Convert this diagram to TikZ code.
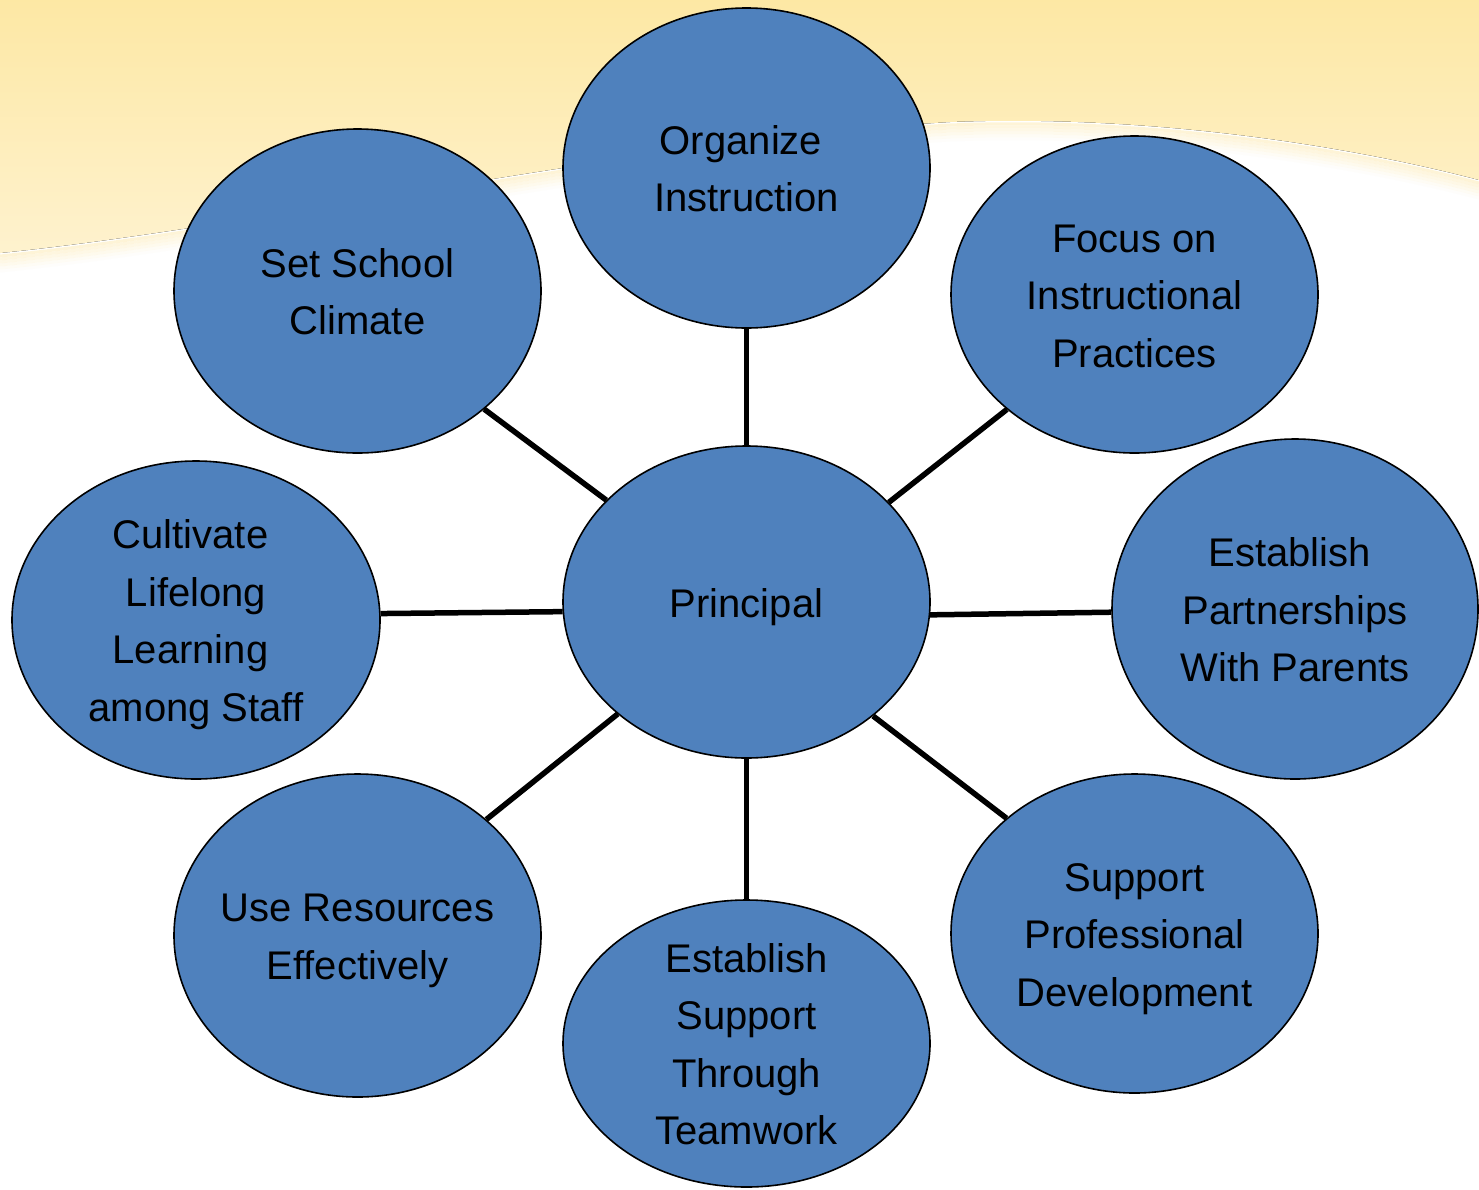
\documentclass[tikz,border=0pt]{standalone}
\usepackage{fontspec}
\setmainfont{Liberation Sans}
\usetikzlibrary{shapes.geometric}
\definecolor{bubblefill}{HTML}{4F81BD}
\definecolor{sunTop}{HTML}{FDE7A1}
\definecolor{sunLow}{HTML}{FEF2CE}

% lower edge of the warm wash across the top
\def\sunedge{(0,253) .. controls (250,228) and (650,140) .. (950,122) .. controls (1150,114) and (1350,146) .. (1479,180)}
% uniform line box for the bubble texts
\newcommand\lnbox{\rule[-13.75pt]{0pt}{57.5pt}}
\newcommand\trail{\kern11pt}

\begin{document}
\begin{tikzpicture}[x=1pt,y=-1pt,
  % negative inner sep keeps the ellipse at its given size
  bubble/.style={ellipse, draw=black, line width=1.6pt, fill=bubblefill,
    inner sep=-60pt, align=center, text=black,
    font=\fontsize{40}{57.5}\selectfont},
  spoke/.style={line width=5.5pt, draw=black}]
\useasboundingbox (0,0) rectangle (1479,1189);
\fill[white] (0,0) rectangle (1479,1189);

% warm wash with a soft lower edge
\fill[top color=sunTop, bottom color=sunLow] (1479,-20) -- (0,-20) -- \sunedge -- cycle;
\foreach \i/\o in {1/0.8,2/0.65,3/0.5,4/0.35,5/0.2,6/0.08}
  \draw[sunLow, line width=3pt, opacity=\o, yshift=-3*\i pt] \sunedge;

% bubbles
\node[bubble, minimum width=367pt, minimum height=312pt] (principal) at (746.5,602) {\lnbox Principal};
\node[bubble, minimum width=367pt, minimum height=320pt] (organize) at (746.5,168) {\lnbox Organize\trail\\\lnbox Instruction};
\node[bubble, minimum width=367pt, minimum height=324pt] (climate) at (357.5,291) {\lnbox Set School\\\lnbox Climate};
\node[bubble, minimum width=367pt, minimum height=317pt] (focus) at (1134.5,294.5) {\lnbox Focus on\\\lnbox Instructional\\\lnbox Practices};
\node[bubble, minimum width=368pt, minimum height=318pt] (cultivate) at (196,620) {\lnbox Cultivate\trail\\\lnbox Lifelong\\\lnbox Learning\trail\\\lnbox among Staff};
\node[bubble, minimum width=366pt, minimum height=340pt] (parents) at (1295,609) {\lnbox Establish\trail\\\lnbox Partnerships\\\lnbox With Parents};
\node[bubble, minimum width=367pt, minimum height=323pt] (resources) at (357.5,935.5) {\lnbox Use Resources\\\lnbox Effectively};
\node[bubble, minimum width=367pt, minimum height=319pt] (develop) at (1134.5,933.5) {\lnbox Support\\\lnbox Professional\\\lnbox Development};
\node[bubble, minimum width=367pt, minimum height=287pt] (teamwork) at (746.5,1043.5) {\lnbox Establish\\\lnbox Support\\\lnbox Through\\\lnbox Teamwork};

% spokes from the centre
\draw[spoke] (principal.90) -- (organize.270);
\draw[spoke] (principal.144.8) -- (climate.317.2);
\draw[spoke] (principal.35.2) -- (focus.222);
\draw[spoke] (principal.183.4) -- (cultivate.2.2);
\draw[spoke] (principal.356.6) -- (parents.181.3);
\draw[spoke] (principal.221.1) -- (resources.42.5);
\draw[spoke] (principal.318.6) -- (develop.138);
\draw[spoke] (principal.270) -- (teamwork.90);
\end{tikzpicture}
\end{document}
